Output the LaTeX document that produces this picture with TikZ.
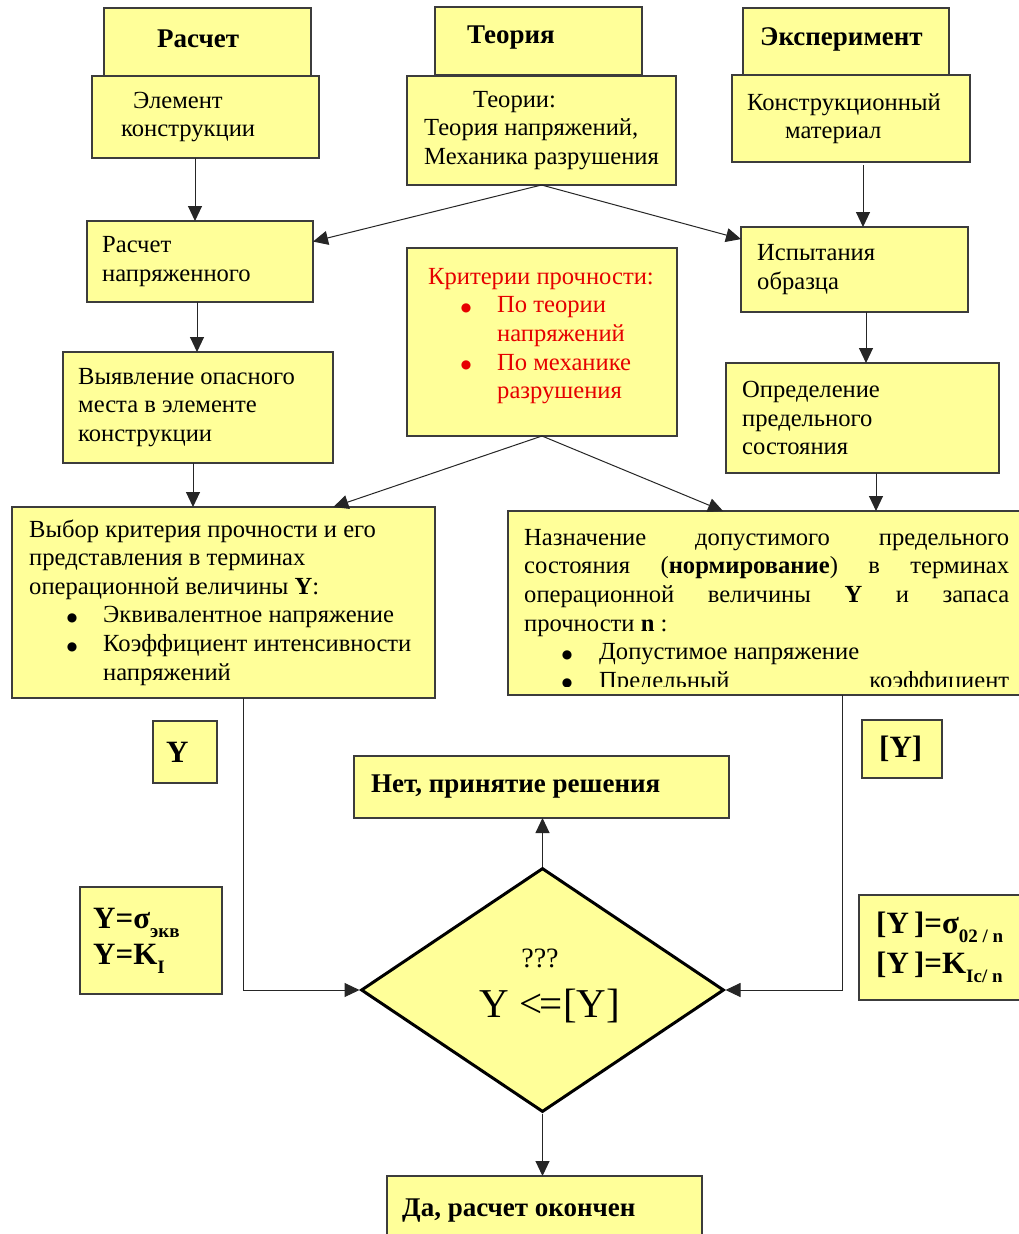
\documentclass[tikz,border=0pt]{standalone}
\usepackage{fontspec}
\setmainfont{Liberation Serif}
\newfontfamily\dejavu{DejaVu Sans}
\usetikzlibrary{arrows.meta,shapes.geometric}
\definecolor{boxy}{RGB}{255,255,153}
\definecolor{bord}{RGB}{60,60,60}
\definecolor{critred}{RGB}{230,0,0}
\newcommand\bodyf{\fontsize{24.6}{28.6}\selectfont}
\newcommand\hdrf{\fontsize{27}{32}\selectfont\bfseries}
\newcommand\bigf{\fontsize{31}{36}\selectfont\bfseries}
\newcommand\bul[2]{\makebox[#1][l]{\hspace*{#2}\makebox[0pt][c]{\raisebox{1.5pt}{\dejavu\fontsize{12}{12}\selectfont ●}}}}
\newcommand\sbs[1]{\raisebox{-0.3em}{\fontsize{19}{19}\selectfont #1}}
\newcommand\bx[8][]{%
  \node[box, minimum width={#5-#3}, minimum height={#6-#4}] (#2) at (#3,#4) {};
  \node[txt, anchor=west, #1] (#2-t) at ([xshift=#7pt]#2.west) {#8};}
\tikzset{
  box/.style={draw=bord, fill=boxy, line width=1.2pt, rectangle, anchor=north west, inner sep=0pt, outer sep=0pt},
  txt/.style={align=left, inner sep=0pt, font=\bodyf},
  arr/.style={draw=black!85, line width=1pt, -{Triangle[length=15pt,width=14pt]}},
}
\begin{document}
\begin{tikzpicture}[x=1pt,y=-1pt]
\useasboundingbox (0,0) rectangle (1019,1234);
\fill[white] (0,0) rectangle (1019,1234);
\clip (0,0) rectangle (1019,1234);

% headers
\bx[font=\hdrf, yshift=3pt]{rasH}{104}{8}{311}{76}{53}{Расчет}
\bx[font=\hdrf, yshift=3pt]{teoH}{435}{7}{642}{75}{32}{Теория}
\bx[font=\hdrf, yshift=3pt]{expH}{743}{8}{949}{76}{17}{Эксперимент}

% first row
\bx{elem}{92}{76}{319}{158}{29}{\hspace*{12pt}Элемент\\конструкции}
\bx{teor}{407}{76}{676}{185}{17}{\hspace*{49pt}Теории:\\Теория напряжений,\\Механика разрушения}
\bx{konstr}{732}{75}{970}{162}{15}{Конструкционный\\\hspace*{38pt}материал}

% second row
\bx{rasnap}{87}{221}{313}{302}{15}{Расчет\\напряженного}
\bx[text=critred, yshift=6pt]{krit}{407}{248}{677}{436}{21}{Критерии прочности:\\\bul{69pt}{38pt}По теории\\\hspace*{69pt}напряжений\\\bul{69pt}{38pt}По механике\\\hspace*{69pt}разрушения}
\bx{isp}{741}{227}{968}{312}{16}{Испытания\\образца}

% third row
\bx{vyyav}{63}{352}{333}{463}{15}{Выявление опасного\\места в элементе\\конструкции}
\bx{opred}{726}{363}{999}{473}{16}{Определение\\предельного\\состояния}

% fourth row
\bx{vybor}{12}{507}{435}{698}{17}{Выбор критерия прочности и его\\представления в терминах\\операционной величины \textbf{Y}:\\\bul{74pt}{43pt}Эквивалентное напряжение\\\bul{74pt}{43pt}Коэффициент интенсивности\\\hspace*{74pt}напряжений}

\node[box, minimum width=512, minimum height=184] (nazn) at (508,511) {};
\begin{scope}
  \clip (nazn.north west) rectangle (1020,686);
  \node[txt, anchor=north west] (nazn-t) at (524,529) {%
    \makebox[485pt][s]{Назначение допустимого предельного}\\
    \makebox[485pt][s]{состояния (\textbf{нормирование}) в терминах}\\
    \makebox[485pt][s]{операционной величины \textbf{Y} и запаса}\\
    прочности \textbf{n} :\\
    \bul{75pt}{43pt}Допустимое напряжение\\
    \makebox[485pt][l]{\bul{75pt}{43pt}Предельный\hfill коэффициент}};
\end{scope}

% labels
\bx[font=\bigf]{ybox}{153}{721}{217}{783}{13}{Y}
\bx[font=\bigf]{yibox}{862}{720}{942}{778}{17}{\relax[Y]}
\bx[font=\bigf]{yeq}{80}{887}{222}{994}{13}{Y=σ\sbs{экв}\\Y=K\sbs{I}}
\bx[font=\fontsize{31}{40}\selectfont\bfseries]{yieq}{859}{895}{1030}{1000}{17}{\relax[Y\,]=σ\sbs{02 / n}\\\relax[Y\,]=K\sbs{Ic/ n}}

% decision
\bx[font=\hdrf]{net}{354}{756}{729}{818}{17}{Нет, принятие решения}
\node[diamond, draw=black, line width=3pt, fill=boxy, minimum width=363pt, minimum height=244pt, inner sep=0pt] (dia) at (542.5,990) {};
\node[font=\fontsize{28}{30}\selectfont, inner sep=0pt] (dia-q) at (540,958) {???};
\node[font=\fontsize{41}{44}\selectfont, inner sep=0pt] (dia-t) at (550,1006) {Y <\kern-3pt=\relax[Y]};
\bx[font=\hdrf, yshift=3pt]{da}{387}{1176}{702}{1252}{15}{Да, расчет окончен}

% connectors
\draw[arr] ([xshift=-10.5pt]elem.south) -- ([xshift=-5pt]rasnap.north);
\draw[arr] ([xshift=-3pt]rasnap.south) -- ([xshift=-1pt]vyyav.north);
\draw[arr] ([xshift=-5pt]vyyav.south) -- ([xshift=-30.5pt]vybor.north);
\draw[arr] ([xshift=12pt,yshift=-3pt]konstr.south) -- ([xshift=8.5pt]isp.north);
\draw[arr] ([xshift=11.5pt]isp.south) -- ([xshift=3.5pt]opred.north);
\draw[arr] ([xshift=13.5pt]opred.south) -- ([xshift=112pt]nazn.north);
\draw[arr] (teor.south) -- (rasnap.10);
\draw[arr] (teor.south) -- (isp.165);
\draw[arr] (krit.south) -- (vybor.41);
\draw[arr] (krit.south) -- (nazn.114);
\draw[arr] ([xshift=19.5pt]vybor.south) |- (dia.west);
\draw[arr] ([xshift=78pt]nazn.south) |- (dia.east);
\draw[arr] (dia.north) -- (dia.north |- net.south);
\draw[arr] (dia.south) -- (dia.south |- da.north);
\end{tikzpicture}
\end{document}
